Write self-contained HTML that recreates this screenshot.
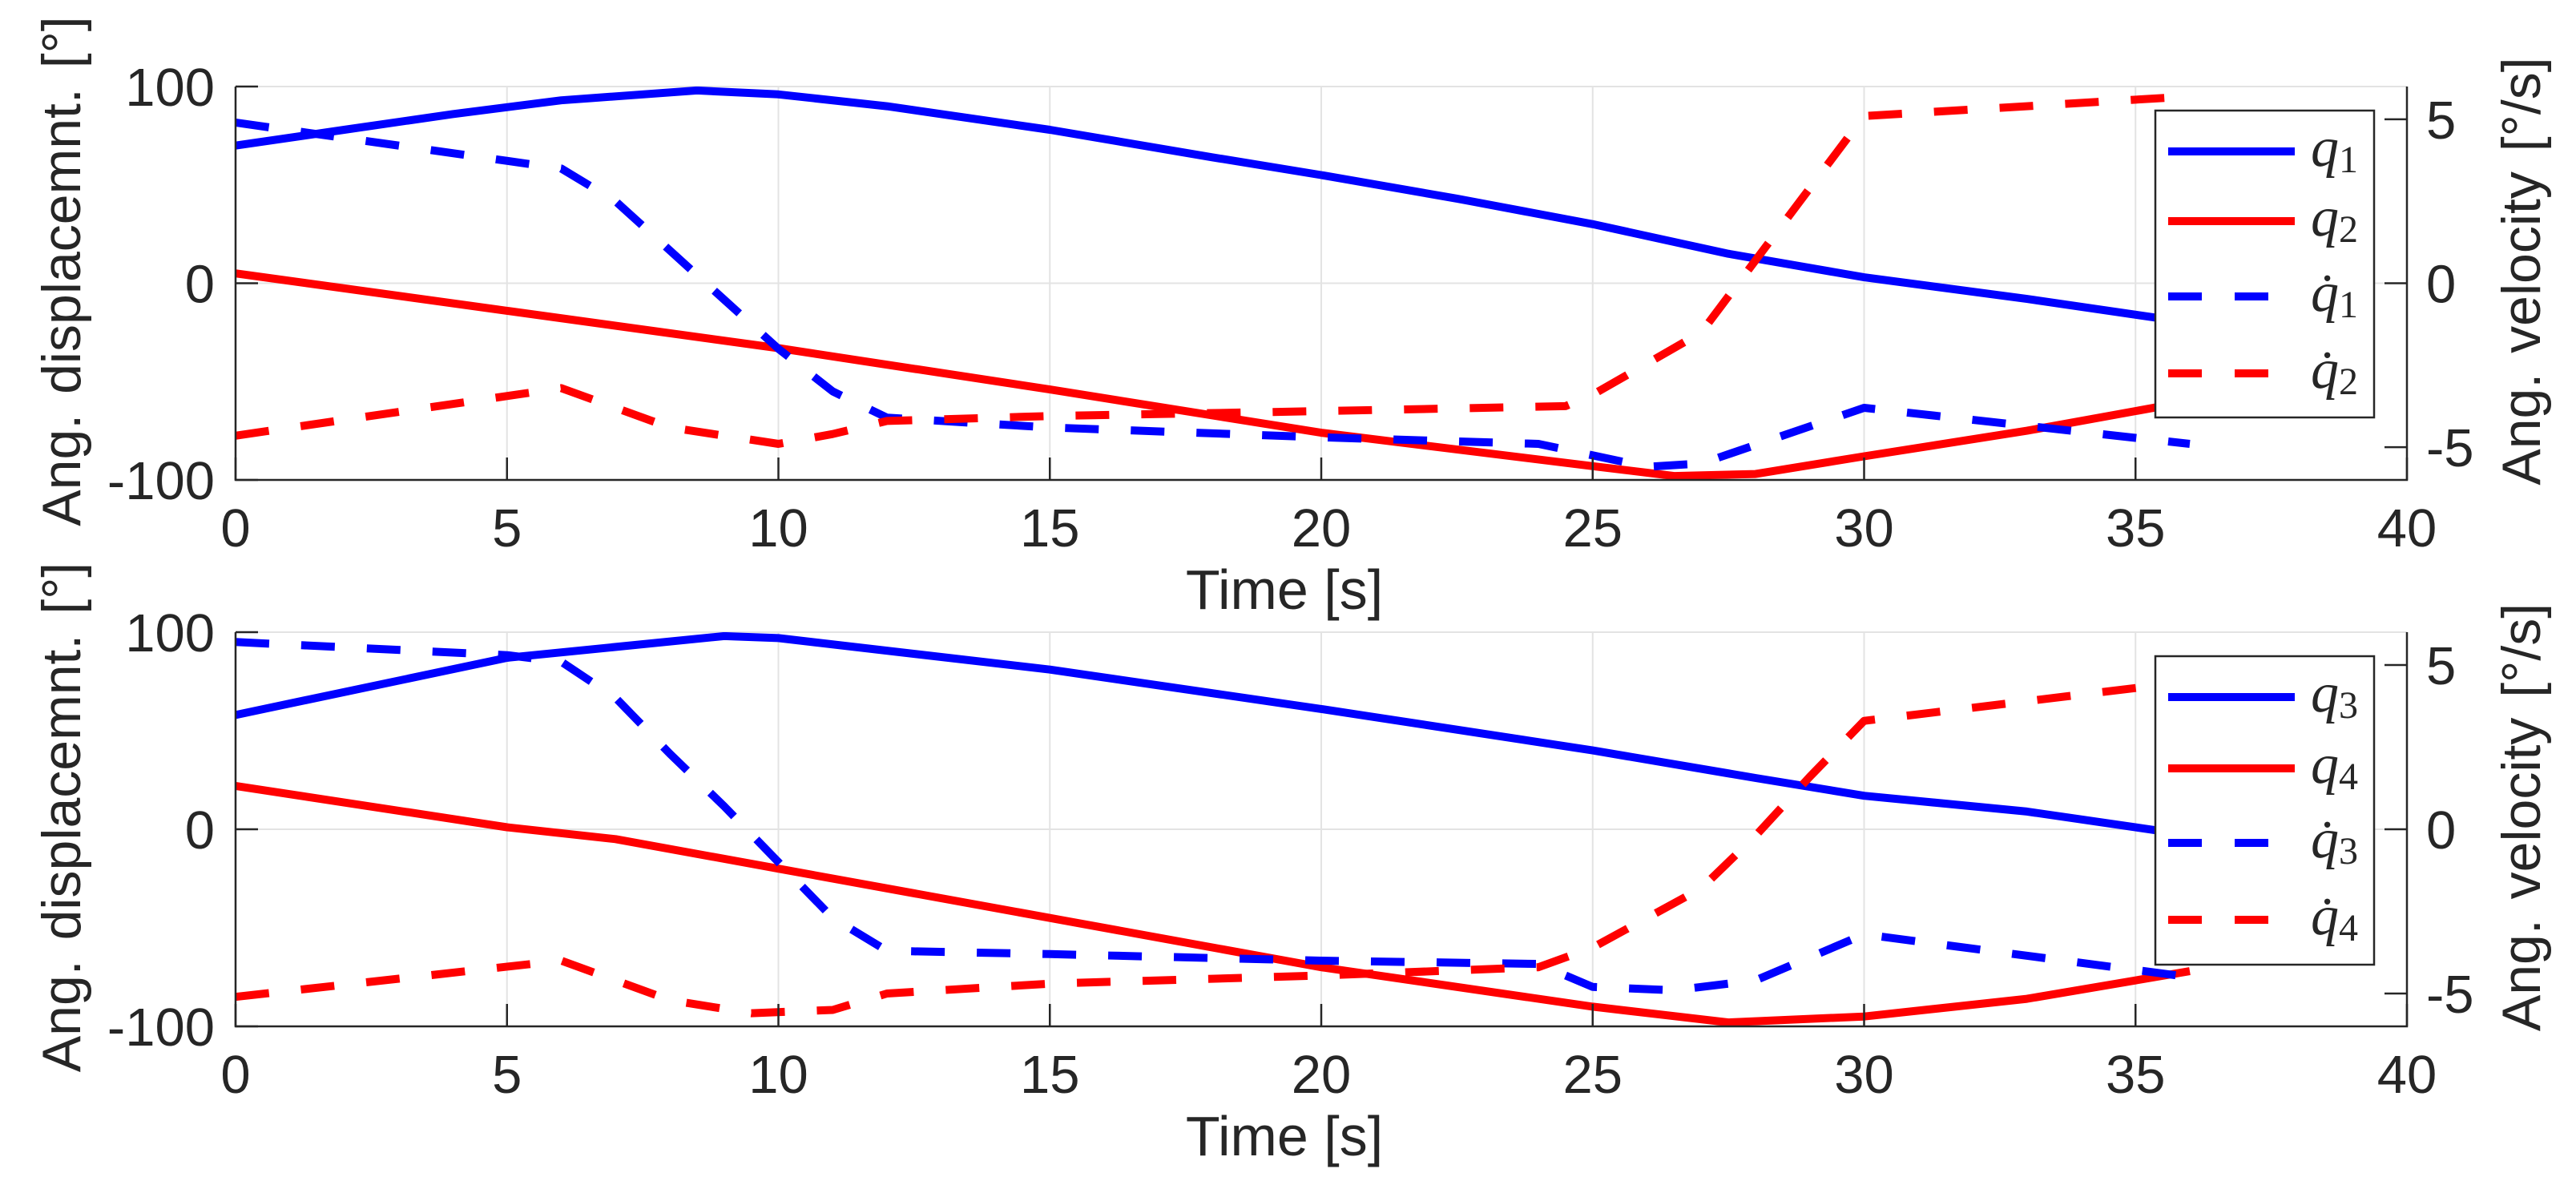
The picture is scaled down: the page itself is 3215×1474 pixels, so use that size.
<!DOCTYPE html>
<html><head><meta charset="utf-8"><style>
html,body{margin:0;padding:0;background:#fff;}
svg{display:block;}
text{font-family:"Liberation Sans",sans-serif;fill:#262626;}
.leg{font-family:"Liberation Serif",serif;font-style:italic;fill:#262626;}
</style></head><body>
<svg id="chart" width="3215" height="1474" viewBox="0 0 3215 1474" xmlns="http://www.w3.org/2000/svg"></svg>
<script>
const xTicks=[0,5,10,15,20,25,30,35,40];
const leftTicks=[-100,0,100];
const rightTicks=[-5,0,5];
// top panel
const t1q1=[0,2,4,6,8.5,10,12,15,18,20,22.5,25,27.5,30,33,36];
const q1=[70,78,86,93,98,96,90,78,64,55,43,30,15,3,-8,-20];
const t1q2=[0,5,10,15,20,25,26.5,28,30,33,36];
const q2=[5,-14,-33,-54,-76,-93,-98,-97,-88,-75,-60];
const t1d1=[0,6,7,8,9,10,11,12,15,20,24,26,27,30,36];
const dq1=[4.9,3.5,2.5,1,-0.5,-2,-3.3,-4.1,-4.4,-4.7,-4.9,-5.6,-5.5,-3.8,-4.9];
const t1d2=[0,6,8,10,11,12,15,20,24.5,25,27,30,36];
const dq2=[-4.65,-3.2,-4.4,-4.9,-4.6,-4.2,-4.05,-3.9,-3.75,-3.4,-1.5,5.1,5.7];
// bottom panel
const t2q3=[0,5,9,10,15,20,25,28,30,33,36];
const q3=[58,87,98,97,81,61,40,26,17,9,-3];
const t2q4=[0,5,7,10,15,20,25,27.5,30,33,36];
const q4=[22,1,-5,-20,-45,-70,-90,-98,-95,-86,-72];
const t2d3=[0,5,6,7,8,9,10,11,12,15,20,24,25,26.5,28,30,36];
const dq3=[5.7,5.3,5.1,4,2.3,0.7,-1,-2.7,-3.7,-3.8,-4.0,-4.1,-4.8,-4.9,-4.6,-3.2,-4.5];
const t2d4=[0,6,8,9.5,11,12,15,20,24,25,27,28,29,30,36];
const dq4=[-5.1,-4.0,-5.2,-5.6,-5.5,-5.0,-4.7,-4.45,-4.2,-3.6,-1.8,-0.2,1.6,3.3,4.5];

const NS="http://www.w3.org/2000/svg";
const svg=document.getElementById('chart');
function mk(tag,attrs,parent){const e=document.createElementNS(NS,tag);for(const k in attrs)e.setAttribute(k,attrs[k]);(parent||svg).appendChild(e);return e;}
const X0=294,X1=3004;
function xs(t){return X0+(t-0)/40*(X1-X0);}

function panel(top,bottom,idx,series,legendLabels,legY,legTop,legBot){
  const g=mk('g',{});
  
  
  const yl=v=>bottom-(v+100)/200*(bottom-top);
  const yr=v=>bottom-(v+6)/12*(bottom-top);
  xTicks.forEach(t=>{const l=mk('line',{x1:xs(t),x2:xs(t),y1:top,y2:bottom,stroke:'#e3e3e3','stroke-width':2},g);
    });
  leftTicks.forEach(v=>{const l=mk('line',{x1:X0,x2:X1,y1:yl(v),y2:yl(v),stroke:'#e3e3e3','stroke-width':2},g);
    });
  const clip=mk('clipPath',{id:'clip'+idx},g);
  mk('rect',{x:X0,y:top,width:X1-X0,height:bottom-top},clip);
  series.forEach(s=>{
    const sc=s.right?yr:yl;
    const pts=s.t.map((t,i)=>xs(t).toFixed(1)+','+sc(s.v[i]).toFixed(1)).join(' ');
    const p=mk('polyline',{points:pts,fill:'none',stroke:s.c,'stroke-width':10,'stroke-linejoin':'round','clip-path':'url(#clip'+idx+')'},g);
    if(s.right)p.setAttribute('stroke-dasharray','42 40');
    
    
  });
  const ax=mk('path',{d:`M${X0},${top} V${bottom} H${X1} V${top}`,fill:'none',stroke:'#262626','stroke-width':2.5},g);
  
  xTicks.forEach(t=>{
    mk('line',{x1:xs(t),x2:xs(t),y1:bottom,y2:bottom-28,stroke:'#262626','stroke-width':2.5},g);
    const tx=mk('text',{x:xs(t),y:bottom+83,'font-size':67,'text-anchor':'middle'},g);
    tx.textContent=t;
    
  });
  leftTicks.forEach(v=>{
    mk('line',{x1:X0,x2:X0+28,y1:yl(v),y2:yl(v),stroke:'#262626','stroke-width':2.5},g);
    const tx=mk('text',{x:268,y:yl(v)+24,'font-size':67,'text-anchor':'end'},g);
    tx.textContent=v;
    
  });
  rightTicks.forEach(v=>{
    mk('line',{x1:X1,x2:X1-28,y1:yr(v),y2:yr(v),stroke:'#262626','stroke-width':2.5},g);
    const tx=mk('text',{x:3028,y:yr(v)+24,'font-size':67,'text-anchor':'start'},g);
    tx.textContent=v;
    
  });
  const mid=(top+bottom)/2-15;
  const xt=mk('text',{x:1603,y:bottom+161,'font-size':70,'text-anchor':'middle'},g);
  xt.textContent='Time [s]';
  
  const ylt=mk('text',{x:0,y:0,'font-size':68,'text-anchor':'middle','word-spacing':6,transform:`translate(100,${mid}) rotate(-90)`},g);
  ylt.textContent='Ang. displacemnt. [°]';
  
  const yrt=mk('text',{x:0,y:0,'font-size':68,'text-anchor':'middle','word-spacing':6,transform:`translate(3170,${mid}) rotate(-90)`},g);
  yrt.textContent='Ang. velocity [°/s]';
  
  const lg=mk('g',{},g);
  
  mk('rect',{x:2690,y:legTop,width:273,height:legBot-legTop,fill:'#fff',stroke:'#262626','stroke-width':2.5},lg);
  legendLabels.forEach((lab,i)=>{
    const s=series[i];
    const ln=mk('line',{x1:2706,x2:2864,y1:legY[i],y2:legY[i],stroke:s.c,'stroke-width':10},lg);
    if(s.right)ln.setAttribute('stroke-dasharray','42 41');
    
    const tx=mk('text',{x:2884,y:legY[i]+18,'font-size':70,class:'leg'},lg);
    const q=mk('tspan',{},tx);q.textContent=lab.dot?'q\u0307':'q';
    const sub=mk('tspan',{'font-style':'normal','font-size':48,dy:8},tx);sub.textContent=lab.n;
    
  });
}
panel(108,599,1,[
  {t:t1q1,v:q1,c:'#0000ff',right:false,name:'q1-line'},
  {t:t1q2,v:q2,c:'#ff0000',right:false,name:'q2-line'},
  {t:t1d1,v:dq1,c:'#0000ff',right:true,name:'q1-dot-line'},
  {t:t1d2,v:dq2,c:'#ff0000',right:true,name:'q2-dot-line'}
],[{n:'1'},{n:'2'},{n:'1',dot:1},{n:'2',dot:1}],[189,276,370,466],138,521);
panel(789,1281,2,[
  {t:t2q3,v:q3,c:'#0000ff',right:false,name:'q3-line'},
  {t:t2q4,v:q4,c:'#ff0000',right:false,name:'q4-line'},
  {t:t2d3,v:dq3,c:'#0000ff',right:true,name:'q3-dot-line'},
  {t:t2d4,v:dq4,c:'#ff0000',right:true,name:'q4-dot-line'}
],[{n:'3'},{n:'4'},{n:'3',dot:1},{n:'4',dot:1}],[870,959,1052,1148],819,1204);
</script>
</body></html>
